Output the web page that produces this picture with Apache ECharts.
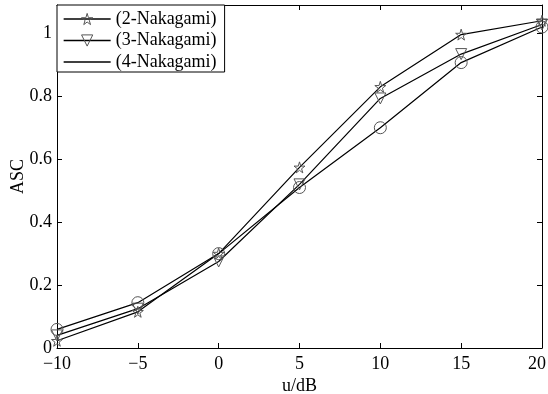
<!DOCTYPE html>
<html><head><meta charset="utf-8">
<script src="https://cdn.jsdelivr.net/npm/echarts@6/dist/echarts.min.js"></script>
<style>html,body{margin:0;padding:0;background:#fff}#c{width:548px;height:394px}</style>
</head><body><div id="c"></div>
<script>
const xValues = [-10, -5, 0, 5, 10, 15, 20];
const nak2 = [0.023, 0.115, 0.30, 0.574, 0.83, 0.996, 1.04];
const nak3 = [0.04, 0.125, 0.275, 0.52, 0.793, 0.934, 1.028];
const nak4 = [0.059, 0.144, 0.30, 0.51, 0.70, 0.907, 1.02];
const seriesNames = ['(2-Nakagami)', '(3-Nakagami)', '(4-Nakagami)'];
const xTicks = [-10, -5, 0, 5, 10, 15, 20];
const yTicks = [0, 0.2, 0.4, 0.6, 0.8, 1];

const FONT = 'Liberation Serif';
const star = 'path://M50,0 L61,35 L98,35 L68,57 L79,91 L50,70 L21,91 L32,57 L2,35 L39,35 Z';
const pair = arr => xValues.map((x, i) => [x, arr[i]]);
const markStyle = {color: 'rgba(255,255,255,0)', borderColor: '#555', borderWidth: 1};
const lineStyle = {color: '#000', width: 1.2};

const chart = echarts.init(document.getElementById('c'));
const axisCommon = {
  axisLine: {show: true, onZero: false, lineStyle: {color: '#000', width: 1}},
  axisTick: {show: true, inside: true, length: 5, lineStyle: {color: '#000'}},
  splitLine: {show: false}
};
chart.setOption({
  animation: false,
  backgroundColor: '#fff',
  textStyle: {fontFamily: FONT},
  grid: {left: 57, right: 6, top: 5, bottom: 46, containLabel: false, outerBoundsMode: 'none'},
  legend: {
    left: 57, top: 5, orient: 'vertical',
    backgroundColor: '#fff',
    borderColor: '#000', borderWidth: 1, borderRadius: 0,
    padding: [5, 8, 1, 6],
    itemGap: 3.5, itemWidth: 47, itemHeight: 14,
    textStyle: {fontFamily: FONT, fontSize: 18, color: '#000'},
    itemStyle: {color: 'rgba(255,255,255,0)', borderColor: '#555', borderWidth: 1},
    lineStyle: {color: '#000', width: 1.3},
    data: [
      {name: seriesNames[0]},
      {name: seriesNames[1]},
      {name: seriesNames[2], icon: 'path://M0,0 L40,0 L40,1.3 L0,1.3 Z', itemStyle: {color: '#000', borderWidth: 0}}
    ]
  },
  xAxis: [
    Object.assign({type: 'value', min: -10, max: 20, interval: 5, position: 'bottom',
      name: 'u/dB', nameLocation: 'middle', nameGap: 29, nameMoveOverlap: false,
      nameTextStyle: {fontFamily: FONT, fontSize: 18, color: '#000'},
      axisLabel: {fontFamily: FONT, fontSize: 18, color: '#000', margin: 7,
        rich: {last: {fontFamily: FONT, fontSize: 18, color: '#000', padding: [0, 10, 0, 0]}},
        formatter: v => {
          if (!xTicks.includes(v)) return '';
          const s = String(v).replace('-', '\u2212');
          return v === xTicks[xTicks.length - 1] ? '{last|' + s + '}' : s;
        }}}, axisCommon),
    Object.assign({type: 'value', min: -10, max: 20, interval: 5, position: 'top',
      axisLabel: {show: false}}, axisCommon)
  ],
  yAxis: [
    Object.assign({type: 'value', min: 0, max: 1.09, interval: 0.2, position: 'left',
      name: 'ASC', nameLocation: 'middle', nameGap: 30, nameMoveOverlap: false,
      nameTextStyle: {fontFamily: FONT, fontSize: 18, color: '#000'},
      axisLabel: {fontFamily: FONT, fontSize: 18, color: '#000', margin: 5, showMaxLabel: false,
        formatter: v => yTicks.some(t => Math.abs(t - v) < 1e-9) ? String(+v.toFixed(1)) : ''}}, axisCommon),
    Object.assign({type: 'value', min: 0, max: 1.09, interval: 0.2, position: 'right',
      axisLabel: {show: false}}, axisCommon)
  ],
  series: [
    {name: seriesNames[0], type: 'line', data: pair(nak2), symbol: star, symbolSize: 11,
      itemStyle: markStyle, lineStyle: lineStyle, z: 3},
    {name: seriesNames[1], type: 'line', data: pair(nak3), symbol: 'triangle', symbolRotate: 180, symbolSize: 11,
      itemStyle: markStyle, lineStyle: lineStyle, z: 3},
    {name: seriesNames[2], type: 'line', data: pair(nak4), symbol: 'circle', symbolSize: 12,
      itemStyle: markStyle, lineStyle: lineStyle, z: 3}
  ]
});
</script></body></html>
